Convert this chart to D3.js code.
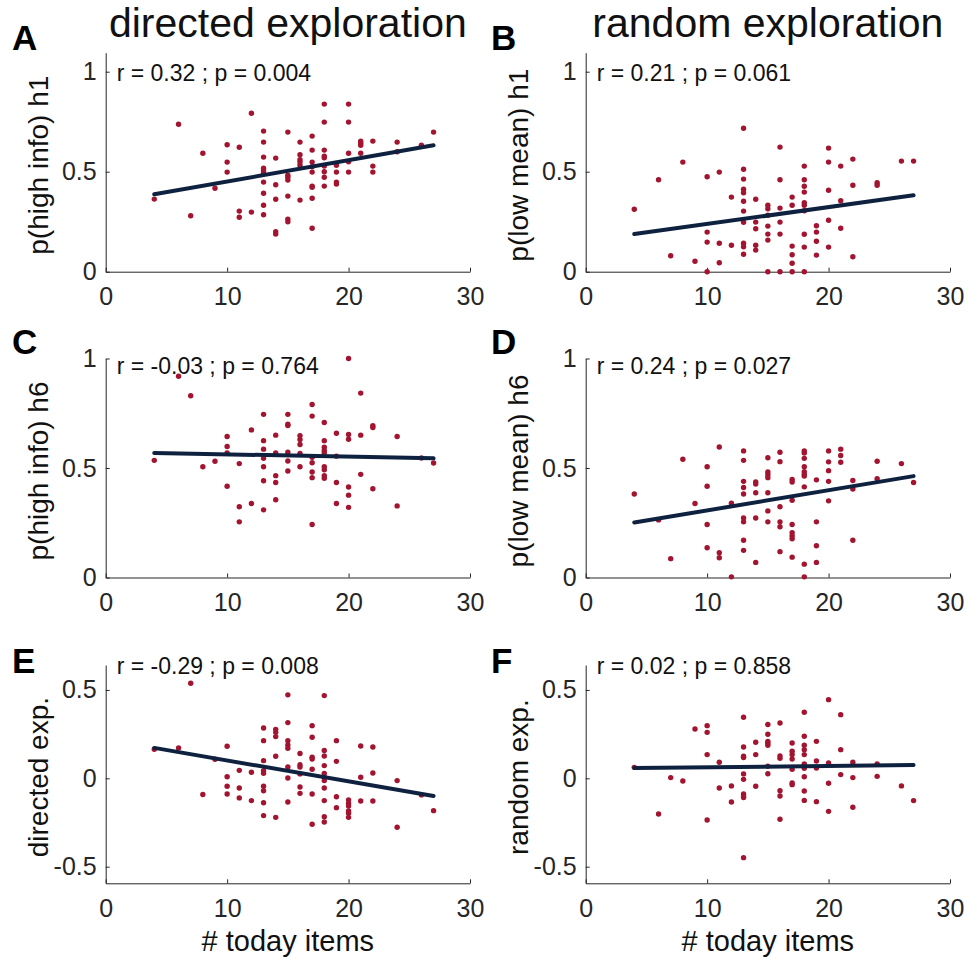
<!DOCTYPE html>
<html><head><meta charset="utf-8">
<script src="https://cdn.jsdelivr.net/npm/d3@7"></script>
<style>body{margin:0;background:#fff} svg{display:block}</style>
</head><body>
<script>
// ---------- DATA ----------
const xItems = [4,6,7,8,9,10,11,12,13,14,15,16,17,18,19,20,21,22,24,26,27];

const yA = [[0.363],[0.737],[0.28],[0.592],[0.417],[0.635,0.548,0.498],[0.622,0.303,0.272],[0.792,0.298],
 [0.703,0.648,0.573,0.517,0.505,0.492,0.448,0.392,0.332,0.285],[0.568,0.435,0.362,0.2,0.188],
 [0.698,0.482,0.472,0.458,0.378,0.263,0.25],[0.648,0.585,0.56,0.548,0.532,0.358],
 [0.678,0.608,0.548,0.525,0.498,0.428,0.422,0.367,0.217],[0.838,0.748,0.608,0.578,0.57,0.528,0.5,0.472,0.428],
 [0.532,0.498,0.448,0.438],[0.838,0.748,0.592,0.55,0.498],[0.652,0.642,0.632,0.592],[0.653,0.528,0.498],
 [0.648,0.6],[0.632],[0.698]];

const yB = [[0.312],[0.46],[0.08],[0.548],[0.052],[0.475,0.198,0.148,0],[0.498,0.142,0.045],[0.373,0.132],
 [0.717,0.512,0.463,0.412,0.395,0.352,0.303,0.247,0.142,0.125,0.087],[0.362,0.248,0.215,0.132,0.108],
 [0.332,0.315,0.282,0.228,0.188,0.158,0],[0.623,0.46,0.318,0.248,0.188,0],[0.373,0.332,0.128,0.085,0.042,0],
 [0.528,0.46,0.427,0.398,0.345,0.332,0.305,0.187,0.123,0],[0.23,0.198,0.152,0.083],[0.618,0.548,0.407,0.257,0.123],
 [0.528,0.355,0.217],[0.563,0.432,0.075],[0.445,0.432],[0.553],[0.553]];

const yC = [[0.535],[0.919],[0.83],[0.506],[0.531],[0.644,0.598,0.569,0.417],[0.52,0.323,0.254],[0.674,0.338],
 [0.745,0.625,0.586,0.544,0.506,0.442,0.309],[0.65,0.569,0.465,0.434,0.355],[0.745,0.7,0.694,0.572,0.532,0.486],
 [0.648,0.63,0.607,0.567,0.506],[0.79,0.737,0.549,0.524,0.482,0.456,0.242],
 [0.708,0.625,0.595,0.58,0.569,0.506,0.492,0.465,0.453],[0.659,0.554,0.434,0.338],[1.0,0.653,0.631,0.413,0.376,0.32],
 [0.842,0.65,0.471],[0.693,0.685,0.405],[0.644,0.327],[0.546],[0.523]];

const yD = [[0.381],[0.263],[0.086],[0.54],[0.338],[0.506,0.417,0.242,0.136],[0.596,0.113,0.09],[0.339,0.003],
 [0.578,0.535,0.439,0.411,0.381,0.272,0.254,0.17,0.124],[0.436,0.427,0.387,0.272,0.069],
 [0.547,0.482,0.469,0.456,0.387,0.304,0.254],[0.572,0.529,0.323,0.254,0.232,0.118],
 [0.448,0.436,0.353,0.242,0.205,0.191,0.177,0.093],[0.578,0.569,0.544,0.506,0.483,0.471,0.463,0.414,0.061,0.003],
 [0.446,0.254,0.145,0.069],[0.578,0.528,0.488,0.439,0.35],[0.586,0.557,0.526],[0.443,0.404,0.17],
 [0.531,0.451],[0.52],[0.434]];

const yE = [[0.164],[0.172],[0.538],[-0.092],[0.108],[0.181,0.009,-0.045,-0.089],[0.045,-0.055,-0.111],[0.034,-0.126],
 [0.285,0.213,0.1,0.043,0.028,-0.045,-0.07,-0.138,-0.211],[0.277,0.26,0.236,0.125,-0.221],
 [0.472,0.315,0.213,0.189,0.17,0.064,0.002,-0.134],[0.14,0.077,0.064,0.025,-0.049,-0.085],
 [0.298,0.232,0.119,0.109,0.051,-0.089,-0.26],[0.468,0.158,0.126,0.072,0.028,0.008,-0.013,-0.055,-0.126,-0.217,-0.247],
 [0.213,0.096,-0.104,-0.166],[-0.123,-0.142,-0.157,-0.185,-0.198,-0.221],[0.183,0.006,-0.128],[0.177,0.03,-0.128],
 [-0.013,-0.277],[-0.094],[-0.183]];

const yF = [[0.062],[-0.202],[0.004],[-0.015],[0.279],[0.298,0.26,0.134,-0.236],[0.091,-0.055],[-0.043,-0.134],
 [0.345,0.177,0.125,0.117,0.025,-0.006,-0.089,-0.1,-0.109,-0.449],[0.204,0.134,-0.045],
 [0.304,0.249,0.208,0.198,0.187,0.068,0.026],[0.313,0.126,0.113,-0.07,-0.1,-0.232],
 [0.2,0.153,0.134,0.109,0.051,-0.026,-0.036],[0.374,0.238,0.187,0.162,0.134,0.081,0.057,0.009,-0.072,-0.125],
 [0.209,0.098,0.058,-0.132],[0.445,0.087,-0.028,-0.187],[0.36,0.162,0.021],[0.091,0.004,-0.164],
 [0.081,0.011],[-0.043],[-0.126]];

// regression line end values at x = 4 and x = 27
const fitX = [4, 27];
const fitA = [0.387, 0.632];
const fitB = [0.188, 0.382];
const fitC = [0.569, 0.544];
const fitD = [0.251, 0.463];
const fitE = [0.172, -0.100];
const fitF = [0.058, 0.075];

const statTexts = ["r = 0.32 ; p = 0.004","r = 0.21 ; p = 0.061","r = -0.03 ; p = 0.764",
                   "r = 0.24 ; p = 0.027","r = -0.29 ; p = 0.008","r = 0.02 ; p = 0.858"];
const yLabels = ["p(high info) h1","p(low mean) h1","p(high info) h6","p(low mean) h6","directed exp.","random exp."];
const letters = ["A","B","C","D","E","F"];
const colTitles = ["directed exploration","random exploration"];
const xLabel = "# today items";
const xTicks = [0,10,20,30];
const yTicksProb = [0,0.5,1];
const yTicksExp = [-0.5,0,0.5];
const tickFmt = d => d === 0 ? "0" : String(d);

// ---------- LAYOUT ----------
const W = 972, H = 959;
const FONT = "'Liberation Sans', Arial, Helvetica, sans-serif";
const AX = "#262626";
const DOT = "#a2142f";
const LINE = "#0e2240";
const colLeft = [105.7, 585.7], plotW = 364.3;
const rows = [
  {top: 52.7, bottom: 271.7, domain: [0, 1.095], ticks: yTicksProb, stat: 81, letter: 50},
  {top: 358.5, bottom: 577.5, domain: [0, 1], ticks: yTicksProb, stat: 374, letter: 354},
  {top: 665, bottom: 883.3, domain: [-0.594, 0.641], ticks: yTicksExp, stat: 674, letter: 673}
];
const ys = [yA, yB, yC, yD, yE, yF];
const fits = [fitA, fitB, fitC, fitD, fitE, fitF];

const svg = d3.select("body").append("svg").attr("width", W).attr("height", H)
  .style("font-family", FONT);

// column titles
colTitles.forEach((t, c) => {
  svg.append("text").attr("x", colLeft[c] + plotW / 2).attr("y", 37)
    .attr("text-anchor", "middle").attr("font-size", 41).attr("fill", "#111").text(t);
});

ys.forEach((groups, i) => {
  const r = Math.floor(i / 2), c = i % 2;
  const row = rows[r];
  const x = d3.scaleLinear().domain([0, 30]).range([colLeft[c], colLeft[c] + plotW]);
  const y = d3.scaleLinear().domain(row.domain).range([row.bottom, row.top]);
  const g = svg.append("g");

  // axes
  const ax = g.append("g").attr("transform", `translate(0,${row.bottom})`)
    .call(d3.axisBottom(x).tickValues(xTicks).tickFormat(tickFmt).tickSize(-4).tickSizeOuter(0).tickPadding(16));
  const ay = g.append("g").attr("transform", `translate(${colLeft[c]},0)`)
    .call(d3.axisLeft(y).tickValues(row.ticks).tickFormat(tickFmt).tickSize(-4).tickSizeOuter(0).tickPadding(9));
  [ax, ay].forEach(a => {
    a.selectAll("path,line").attr("stroke", AX).attr("stroke-width", 1);
    a.selectAll("text").attr("fill", AX).attr("font-size", 25).attr("font-family", FONT);
  });

  // points
  const pts = [];
  xItems.forEach((xv, k) => groups[k].forEach(v => pts.push([xv, v])));
  g.append("g").selectAll("circle").data(pts).join("circle")
    .attr("cx", d => x(d[0])).attr("cy", d => y(d[1])).attr("r", 2.7).attr("fill", DOT);

  // regression line
  const f = fits[i];
  g.append("line").attr("x1", x(fitX[0])).attr("x2", x(fitX[1]))
    .attr("y1", y(f[0])).attr("y2", y(f[1]))
    .attr("stroke", LINE).attr("stroke-width", 4).attr("stroke-linecap", "round");

  // stat text
  g.append("text").attr("x", colLeft[c] + 11).attr("y", row.stat)
    .attr("font-size", 23).attr("fill", "#111").text(statTexts[i]);

  // y label
  const yl = c === 0 ? 48 : 528;
  g.append("text").attr("transform", `translate(${yl},${(row.top + row.bottom) / 2 + 3}) rotate(-90)`)
    .attr("text-anchor", "middle").attr("font-size", 28).attr("fill", "#111").text(yLabels[i]);

  // panel letter
  g.append("text").attr("x", c === 0 ? 12 : 491).attr("y", row.letter)
    .attr("font-size", 35).attr("font-weight", "bold").attr("fill", "#000").text(letters[i]);

  // x label on bottom row
  if (r === 2) {
    g.append("text").attr("x", colLeft[c] + plotW / 2).attr("y", 951)
      .attr("text-anchor", "middle").attr("font-size", 29).attr("fill", "#111").text(xLabel);
  }
});
</script>
</body></html>
